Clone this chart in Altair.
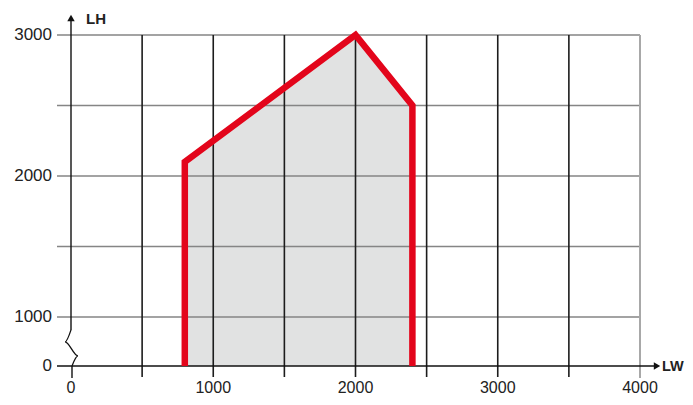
import altair as alt
import pandas as pd

# ---- data ----
x_ticks = [0, 1000, 2000, 3000, 4000]
y_ticks = [0, 1000, 2000, 3000]
v_grid = [500, 1000, 1500, 2000, 2500, 3000, 3500]
v_edge = [4000]
h_grid = [1000, 1500, 2000, 2500, 3000]
outline_x = [800, 800, 2000, 2400, 2400]
outline_y = [0, 2100, 3000, 2500, 0]
break_x = [0, -42, 49, 7]
break_y = [737, 491, 205, 0]
axis_titles = ["LW", "LH"]

W, H = 569, 331
FONT = "Liberation Sans"
TXT = "#222222"

xs = alt.Scale(domain=[0, 4000], range=[0, W], nice=False, zero=False)
ys = alt.Scale(domain=[0, 1000, 3000], range=[H, 282, 0], nice=False, zero=False)

def X(f="x"):
    return alt.X(f"{f}:Q", scale=xs, axis=None)

def Y(f="y"):
    return alt.Y(f"{f}:Q", scale=ys, axis=None)

outline = pd.DataFrame({"x": outline_x, "y": outline_y, "i": list(range(len(outline_x)))})
top = outline.iloc[1:4].assign(y0=0)
brk = pd.DataFrame({"x": break_x, "y": break_y, "i": list(range(len(break_x)))})

area = alt.Chart(top).mark_area(color="#e1e2e2").encode(
    x=X(), y=Y(), y2="y0:Q"
)

hgrid = alt.Chart(pd.DataFrame({"y": h_grid})).mark_rule(color="#858585", strokeWidth=1.5).encode(
    y=Y(), x=alt.value(-14), x2=alt.value(W)
)

vgrid = alt.Chart(pd.DataFrame({"x": v_grid})).mark_rule(color="#1c1c1c", strokeWidth=1.6).encode(
    x=X(), y=alt.value(0), y2=alt.value(342)
)

vedge = alt.Chart(pd.DataFrame({"x": v_edge})).mark_rule(color="#a8a8a8", strokeWidth=2).encode(
    x=X(), y=alt.value(0), y2=alt.value(343)
)

xaxis = alt.Chart(pd.DataFrame({"y": [0]})).mark_rule(color="#111111", strokeWidth=1.6).encode(
    y=Y(), x=alt.value(-14), x2=alt.value(584)
)

yaxis_top = alt.Chart(pd.DataFrame({"x": [0], "y": [break_y[0]]})).mark_rule(color="#111111", strokeWidth=1.4).encode(
    x=X(), y=Y(), y2=alt.value(-18)
)
yaxis_bot = alt.Chart(pd.DataFrame({"x": [break_x[-1]], "y": [0]})).mark_rule(color="#111111", strokeWidth=1.4).encode(
    x=X(), y=Y(), y2=alt.value(343)
)
squiggle = alt.Chart(brk).mark_line(color="#111111", strokeWidth=1.3, interpolate="monotone").encode(
    x=X(), y=Y(), order="i:Q"
)

arrow_up = alt.Chart(pd.DataFrame({"x": [0]})).mark_point(
    shape="triangle-up", filled=True, color="#111111", size=55, opacity=1
).encode(x=X(), y=alt.value(-17))
arrow_right = alt.Chart(pd.DataFrame({"y": [0]})).mark_point(
    shape="triangle-right", filled=True, color="#111111", size=55, opacity=1
).encode(x=alt.value(586), y=Y())

red = alt.Chart(outline).mark_line(
    color="#e3051b", strokeWidth=6.5, strokeJoin="miter", strokeCap="butt"
).encode(x=X(), y=Y(), order="i:Q")

ylab = alt.Chart(pd.DataFrame({"y": y_ticks})).mark_text(
    align="right", baseline="middle", fontSize=17, font=FONT, color=TXT
).encode(y=Y(), x=alt.value(-19), text=alt.Text("y:Q", format="d"))

xlab = alt.Chart(pd.DataFrame({"x": x_ticks})).mark_text(
    align="center", baseline="middle", fontSize=16, font=FONT, color=TXT
).encode(x=X(), y=alt.value(353), text=alt.Text("x:Q", format="d"))

titles = pd.DataFrame({"t": axis_titles})
lw = alt.Chart(titles.iloc[[0]]).mark_text(
    align="left", baseline="alphabetic", fontSize=14.5, fontWeight="bold", font=FONT, color=TXT
).encode(x=alt.value(591), y=alt.value(336), text="t:N")
lh = alt.Chart(titles.iloc[[1]]).mark_text(
    align="left", baseline="alphabetic", fontSize=15, fontWeight="bold", font=FONT, color=TXT
).encode(x=alt.value(15), y=alt.value(-11), text="t:N")

chart = alt.layer(
    area, hgrid, vgrid, vedge, xaxis, yaxis_top, yaxis_bot, squiggle,
    arrow_up, arrow_right, red, ylab, xlab, lw, lh,
).properties(
    width=W,
    height=H,
    padding={"left": 63, "top": 27, "right": 45, "bottom": 31},
    autosize=alt.AutoSizeParams(type="none"),
    background="white",
).configure_view(stroke=None)

chart.save("out.html", embed_options={"renderer": "svg", "actions": False})
